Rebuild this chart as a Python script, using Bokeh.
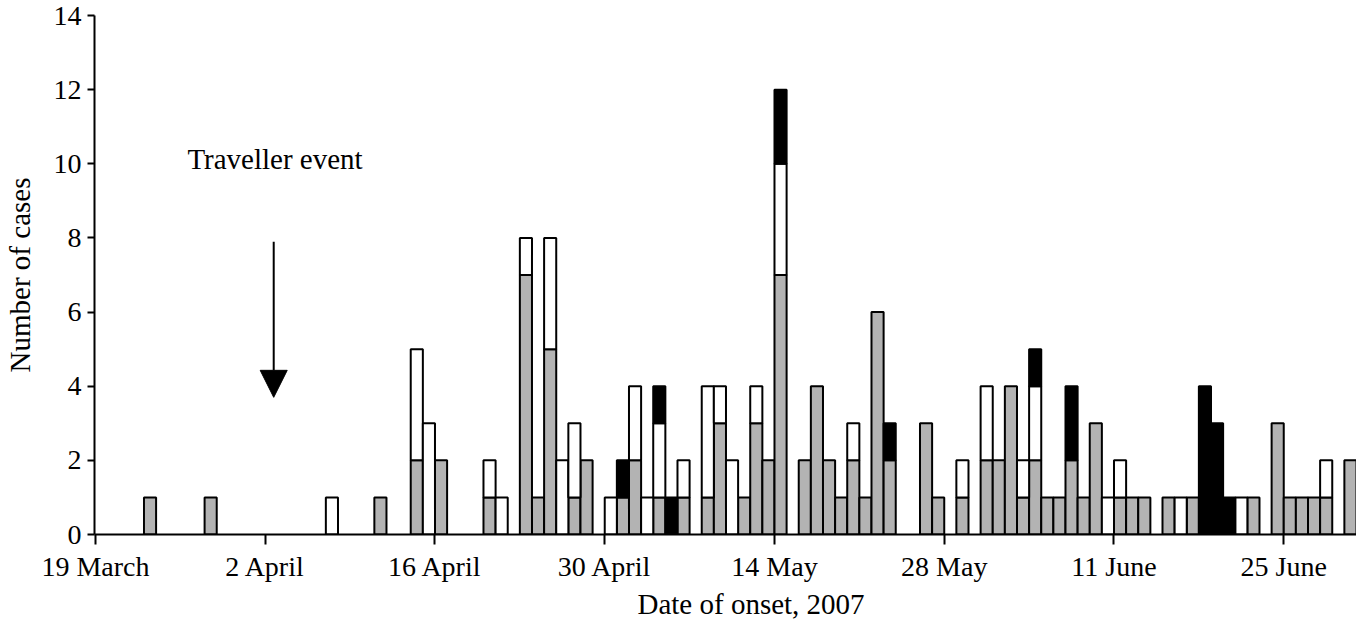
import pandas as pd
from bokeh.plotting import figure
from bokeh.models import Label, Arrow, NormalHead, FixedTicker, ColumnDataSource, Range1d, Title
from bokeh.embed import file_html
from bokeh.resources import INLINE

# ---------------- data ----------------
start_date = "2007-03-19"
onset_dates = [
    "2007-03-23", "2007-03-28", "2007-04-07", "2007-04-11", "2007-04-14", "2007-04-15",
    "2007-04-16", "2007-04-20", "2007-04-21", "2007-04-23", "2007-04-24", "2007-04-25",
    "2007-04-26", "2007-04-27", "2007-04-28", "2007-04-30", "2007-05-01", "2007-05-02",
    "2007-05-03", "2007-05-04", "2007-05-05", "2007-05-06", "2007-05-08", "2007-05-09",
    "2007-05-10", "2007-05-11", "2007-05-12", "2007-05-13", "2007-05-14", "2007-05-16",
    "2007-05-17", "2007-05-18", "2007-05-19", "2007-05-20", "2007-05-21", "2007-05-22",
    "2007-05-23", "2007-05-26", "2007-05-27", "2007-05-29", "2007-05-31", "2007-06-01",
    "2007-06-02", "2007-06-03", "2007-06-04", "2007-06-05", "2007-06-06", "2007-06-07",
    "2007-06-08", "2007-06-09", "2007-06-10", "2007-06-11", "2007-06-12", "2007-06-13",
    "2007-06-15", "2007-06-16", "2007-06-17", "2007-06-18", "2007-06-19", "2007-06-20",
    "2007-06-21", "2007-06-22", "2007-06-24", "2007-06-25", "2007-06-26", "2007-06-27",
    "2007-06-28", "2007-06-30",
]
grey_cases = [
    1, 1, 0, 1, 2, 0,
    2, 1, 0, 7, 1, 5,
    0, 1, 2, 0, 1, 2,
    0, 1, 0, 1, 1, 3,
    0, 1, 3, 2, 7, 2,
    4, 2, 1, 2, 1, 6,
    2, 3, 1, 1, 2, 2,
    4, 1, 2, 1, 1, 2,
    1, 3, 0, 1, 1, 1,
    1, 0, 1, 0, 0, 0,
    0, 1, 3, 1, 1, 1,
    1, 2,
]
white_cases = [
    0, 0, 1, 0, 3, 3,
    0, 1, 1, 1, 0, 3,
    2, 2, 0, 1, 0, 2,
    1, 2, 0, 1, 3, 1,
    2, 0, 1, 0, 3, 0,
    0, 0, 0, 1, 0, 0,
    0, 0, 0, 1, 2, 0,
    0, 1, 2, 0, 0, 0,
    0, 0, 1, 1, 0, 0,
    0, 1, 0, 0, 0, 0,
    1, 0, 0, 0, 0, 0,
    1, 0,
]
black_cases = [
    0, 0, 0, 0, 0, 0,
    0, 0, 0, 0, 0, 0,
    0, 0, 0, 0, 1, 0,
    0, 1, 1, 0, 0, 0,
    0, 0, 0, 0, 2, 0,
    0, 0, 0, 0, 0, 0,
    1, 0, 0, 0, 0, 0,
    0, 0, 1, 0, 0, 2,
    0, 0, 0, 0, 0, 0,
    0, 0, 0, 4, 3, 1,
    0, 0, 0, 0, 0, 0,
    0, 0,
]
tick_dates = ["2007-03-19", "2007-04-02", "2007-04-16", "2007-04-30",
              "2007-05-14", "2007-05-28", "2007-06-11", "2007-06-25"]
tick_labels = ["19 March", "2 April", "16 April", "30 April",
               "14 May", "28 May", "11 June", "25 June"]
y_ticks = [0, 2, 4, 6, 8, 10, 12, 14]
event_date = "2007-04-02"
event_text = "Traveller event"
x_title = "Date of onset, 2007"
y_title = "Number of cases"

# ---------------- helpers ----------------
t0 = pd.Timestamp(start_date)


def day_of(d):
    return (pd.Timestamp(d) - t0).days


days = [day_of(d) for d in onset_dates]

GREY = "#b3b3b3"
FONT = "Liberation Serif"

p = figure(width=1356, height=620,
           x_range=Range1d(-0.08, 104), y_range=Range1d(0, 14),
           output_backend="svg", toolbar_location=None,
           min_border_left=92, min_border_right=0,
           min_border_top=15, min_border_bottom=86)
p.outline_line_color = None
p.xgrid.grid_line_color = None
p.ygrid.grid_line_color = None
p.background_fill_color = "white"
p.border_fill_color = "white"

# stacked segments: grey at the bottom, white in the middle, black on top
layers = [
    (grey_cases, [0] * len(days), GREY),
    (white_cases, grey_cases, "white"),
    (black_cases, [g + w for g, w in zip(grey_cases, white_cases)], "black"),
]
for series, base, colour in layers:
    xs, bots, tops = [], [], []
    for d, h, b in zip(days, series, base):
        if h > 0:
            xs.append(d + 0.5)
            bots.append(b)
            tops.append(b + h)
    src = ColumnDataSource(dict(x=xs, bottom=bots, top=tops))
    p.vbar(x="x", bottom="bottom", top="top", width=1, source=src,
           fill_color=colour, line_color="black", line_width=2)

# axes
tick_days = [day_of(d) for d in tick_dates]
p.xaxis.ticker = FixedTicker(ticks=tick_days)
p.xaxis.major_label_overrides = {d: l for d, l in zip(tick_days, tick_labels)}
p.yaxis.ticker = FixedTicker(ticks=y_ticks)
for ax in (p.xaxis, p.yaxis):
    ax.axis_line_width = 2
    ax.axis_line_color = "black"
    ax.major_tick_line_width = 2
    ax.major_tick_line_color = "black"
    ax.major_tick_in = 0
    ax.minor_tick_line_color = None
    ax.major_label_text_font = FONT
    ax.major_label_text_font_size = "28px"
    ax.major_label_text_color = "black"
p.xaxis.major_tick_out = 10
p.xaxis.major_label_standoff = 6
p.yaxis.major_tick_out = 7
p.yaxis.major_label_standoff = 6

p.yaxis.axis_label = y_title
p.yaxis.axis_label_text_font = FONT
p.yaxis.axis_label_text_font_size = "29px"
p.yaxis.axis_label_text_font_style = "normal"
p.yaxis.axis_label_text_color = "black"
p.yaxis.axis_label_standoff = 15

xt = Title(text=x_title, align="left", offset=543, standoff=2,
           text_font=FONT, text_font_size="29px", text_font_style="normal",
           text_color="black")
p.add_layout(xt, "below")

# traveller event annotation
ev = day_of(event_date) + 0.7
p.add_layout(Label(x=7.58, y=10.14, text=event_text, text_align="left",
                   text_baseline="alphabetic", text_font=FONT,
                   text_font_size="29px", text_color="black"))
p.add_layout(Arrow(x_start=ev, y_start=7.9, x_end=ev, y_end=3.7,
                   line_width=2, line_color="black",
                   end=NormalHead(size=27, fill_color="black", line_color="black",
                                  line_width=1)))

open("out.html", "w").write(file_html(p, INLINE))
